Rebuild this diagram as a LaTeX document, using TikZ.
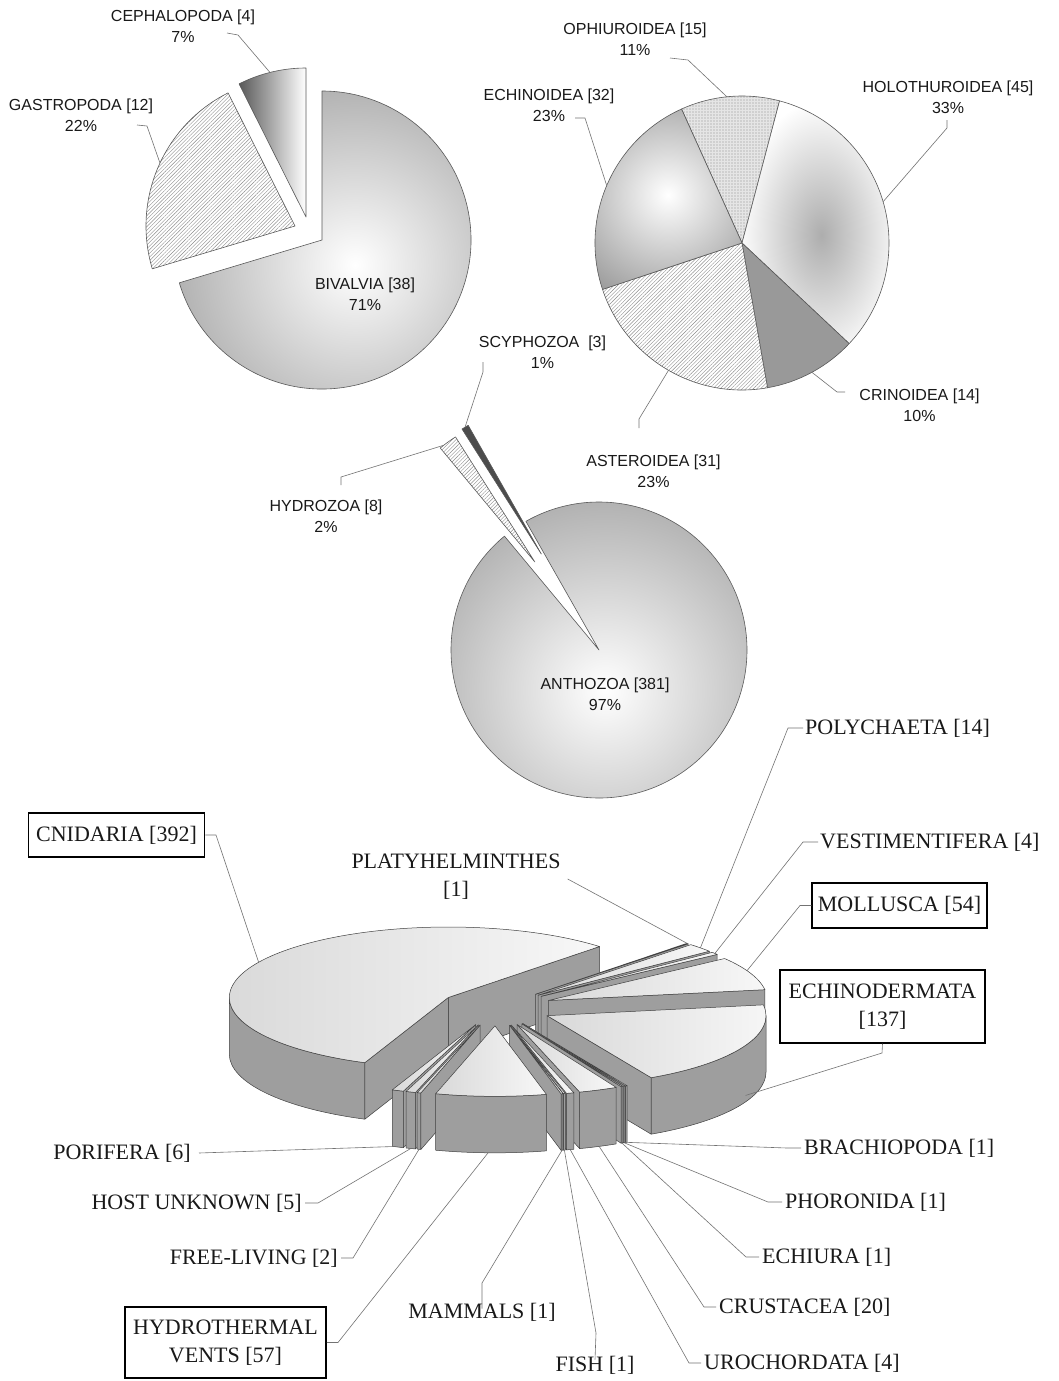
\documentclass[tikz,border=0pt]{standalone}
\usepackage{fontspec}
\setmainfont{Liberation Serif}
\newfontfamily\sansf{Liberation Sans}
\usetikzlibrary{calc,patterns.meta}
\def\Cx{496}\def\Cy{1007.5}\def\Ra{219}\def\Rb{70.5}\def\Hh{56.5}\def\Ex{0.26}
\tikzset{
  edge/.style={draw=black!75, line width=0.5pt, line join=round},
  wallst/.style={edge, fill=black!38},
  topst/.style={edge, left color=black!15, right color=black!3},
  lead/.style={draw=black!55, line width=0.6pt},
  lsans/.style={font=\sansf\fontsize{16}{21}\selectfont, align=center, inner sep=0pt, text=black!90},
  lser/.style={font=\fontsize{22}{28}\selectfont, inner sep=0pt, align=center, text=black!90},
  lbox/.style={lser, draw=black, line width=1.5pt, fill=white},
  pedge/.style={draw=black!65, line width=0.6pt, line join=round},
  hatchst/.style={pedge, preaction={fill=white}, pattern={Lines[angle=45,distance=2.6pt,line width=0.4pt]}, pattern color=black!45},
}
\newcommand\owall[3]{%
  \path[wallst] ($(#1)+({\Ra*cos(#2)},{-\Rb*sin(#2)})$)
    arc[start angle={-(#2)}, end angle={-(#3)}, x radius=\Ra, y radius=\Rb]
    -- ++(0,\Hh)
    arc[start angle={-(#3)}, end angle={-(#2)}, x radius=\Ra, y radius=\Rb] -- cycle;}
\newcommand\rwall[2]{%
  \path[wallst] (#1) -- ++({\Ra*cos(#2)},{-\Rb*sin(#2)}) -- ++(0,\Hh) -- ($(#1)+(0,\Hh)$) -- cycle;}
\newcommand\pslice[3]{%
  \pgfmathsetmacro\pM{(#1+#2)/2}%
  \pgfmathsetmacro\pX{\Cx+\Ex*\Ra*cos(\pM)}%
  \pgfmathsetmacro\pY{\Cy-\Ex*\Rb*sin(\pM)}%
  \coordinate (#3) at (\pX,\pY);%
  \pgfmathsetmacro\wLo{max(#1,-180)}%
  \pgfmathsetmacro\wHi{min(#2,0)}%
  \pgfmathtruncatemacro\wOk{\wLo<\wHi}%
  \ifnum\wOk=1 \owall{#3}{\wLo}{\wHi}\fi
  \pgfmathsetmacro\wLo{max(#1,180)}%
  \pgfmathsetmacro\wHi{min(#2,360)}%
  \pgfmathtruncatemacro\wOk{\wLo<\wHi}%
  \ifnum\wOk=1 \owall{#3}{\wLo}{\wHi}\fi
  \pgfmathtruncatemacro\wOk{cos(#1)>0}%
  \ifnum\wOk=1 \rwall{#3}{#1}\fi
  \pgfmathtruncatemacro\wOk{cos(#2)<0}%
  \ifnum\wOk=1 \rwall{#3}{#2}\fi
  \path[topst] (#3) -- ++({\Ra*cos(#1)},{-\Rb*sin(#1)})
    arc[start angle={-(#1)}, end angle={-(#2)}, x radius=\Ra, y radius=\Rb] -- cycle;}
\newcommand\rimpt[4]{\coordinate (#1) at ($(#2)+({\Ra*cos(#3)},{-\Rb*sin(#3)+#4})$);}
\begin{document}
\begin{tikzpicture}[x=1pt,y=-1pt]
\useasboundingbox (0,0) rectangle (1059,1381);
\fill[white] (0,0) rectangle (1059,1381);

% ---------------- MOLLUSCA pie (top left)
\coordinate (bivC) at (322,240);
\coordinate (gasC) at (295,226);
\coordinate (cepC) at (306,217);
\path[pedge, path picture={\shade[inner color=white, outer color=black!44] (355,265) circle (260);}]
  (bivC) -- ++({149*cos(-163.3)},{-149*sin(-163.3)}) arc[start angle=163.3, end angle=-90, radius=149] -- cycle;
\path[hatchst]
  (gasC) -- ++({149*cos(116.7)},{-149*sin(116.7)}) arc[start angle=-116.7, end angle=-196.7, radius=149] -- cycle;
\path[pedge, left color=black!65, right color=white]
  (cepC) -- ++({149*cos(90)},{-149*sin(90)}) arc[start angle=-90, end angle=-116.7, radius=149] -- cycle;

\node[lsans] (lBiv) at (365,294) {BIVALVIA [38]\\71\%};
\node[lsans] (lGas) at (81,115.5) {GASTROPODA [12]\\22\%};
\node[lsans] (lCep) at (183,26) {CEPHALOPODA [4]\\7\%};
\coordinate (aCep) at (227,33); \coordinate (bCep) at (238,35);
\coordinate (eCep) at ($(cepC)+({149*cos(104)},{-149*sin(104)})$);
\draw[lead] (aCep) -- (bCep) -- (eCep);
\coordinate (aGas) at (137,125); \coordinate (bGas) at (147,126);
\coordinate (eGas) at ($(gasC)+({149*cos(155)},{-149*sin(155)})$);
\draw[lead] (aGas) -- (bGas) -- (eGas);

% ---------------- ECHINODERMATA pie (top right)
\coordinate (echC) at (742,243);
\path[pedge, preaction={fill=black!10}, pattern={Dots[distance=3pt,radius=0.6pt]}, pattern color=black!45]
  (echC) -- ++({147*cos(75.2)},{-147*sin(75.2)}) arc[start angle=-75.2, end angle=-114.3, radius=147] -- cycle;
\path[pedge, fill=white, path picture={\shade[inner color=black!32, outer color=white] (818,235) ellipse (80 and 135);}]
  (echC) -- ++({147*cos(-43.2)},{-147*sin(-43.2)}) arc[start angle=43.2, end angle=-75.2, radius=147] -- cycle;
\path[pedge, fill=black!40]
  (echC) -- ++({147*cos(-80)},{-147*sin(-80)}) arc[start angle=80, end angle=43.2, radius=147] -- cycle;
\path[hatchst]
  (echC) -- ++({147*cos(-161.6)},{-147*sin(-161.6)}) arc[start angle=161.6, end angle=80, radius=147] -- cycle;
\path[pedge, path picture={\shade[inner color=white, outer color=black!46] (668,195) circle (135);}]
  (echC) -- ++({147*cos(114.3)},{-147*sin(114.3)}) arc[start angle=-114.3, end angle=-198.4, radius=147] -- cycle;

\node[lsans] (lOph) at (635,39.5) {OPHIUROIDEA [15]\\11\%};
\node[lsans] (lEcn) at (549,105.5) {ECHINOIDEA [32]\\23\%};
\node[lsans] (lHol) at (948,97) {HOLOTHUROIDEA [45]\\33\%};
\node[lsans] (lCri) at (919.5,405) {CRINOIDEA [14]\\10\%};
\node[lsans] (lAst) at (653.5,471) {ASTEROIDEA [31]\\23\%};
\coordinate (aOph) at (670,58); \coordinate (bOph) at (688,60);
\coordinate (eOph) at ($(echC)+({147*cos(95.9)},{-147*sin(95.9)})$);
\draw[lead] (aOph) -- (bOph) -- (eOph);
\coordinate (aEcn) at (575,118); \coordinate (bEcn) at (585,118);
\coordinate (eEcn) at ($(echC)+({147*cos(157)},{-147*sin(157)})$);
\draw[lead] (aEcn) -- (bEcn) -- (eEcn);
\coordinate (aHol) at (947,120); \coordinate (bHol) at (947,128);
\coordinate (eHol) at ($(echC)+({147*cos(16.3)},{-147*sin(16.3)})$);
\draw[lead] (aHol) -- (bHol) -- (eHol);
\coordinate (aCri) at (845,392); \coordinate (bCri) at (837,392);
\coordinate (eCri) at ($(echC)+({147*cos(-61.6)},{-147*sin(-61.6)})$);
\draw[lead] (aCri) -- (bCri) -- (eCri);
\coordinate (aAst) at (639,428); \coordinate (bAst) at (639,419);
\coordinate (eAst) at ($(echC)+({147*cos(-120)},{-147*sin(-120)})$);
\draw[lead] (aAst) -- (bAst) -- (eAst);

% ---------------- CNIDARIA pie (middle)
\coordinate (antC) at (599,650);
\coordinate (hydC) at (534.8,561.9);
\coordinate (scyC) at (541.3,554);
\path[pedge, path picture={\shade[inner color=white, outer color=black!44] (605,690) circle (275);}]
  (antC) -- ++({148*cos(129.7)},{-148*sin(129.7)}) arc[start angle=-129.7, end angle=-479.6, radius=148] -- cycle;
\path[hatchst]
  (hydC) -- ++({148*cos(122.4)},{-148*sin(122.4)}) arc[start angle=-122.4, end angle=-129.7, radius=148] -- cycle;
\path[pedge, fill=black!70]
  (scyC) -- ++({148*cos(119.6)},{-148*sin(119.6)}) arc[start angle=-119.6, end angle=-122.4, radius=148] -- cycle;

\node[lsans] (lAnt) at (605,694) {ANTHOZOA [381]\\97\%};
\node[lsans] (lScy) at (542.5,352.5) {SCYPHOZOA \ [3]\\1\%};
\node[lsans] (lHyd) at (326,516) {HYDROZOA [8]\\2\%};
\coordinate (aScy) at (483,362); \coordinate (bScy) at (483,372);
\coordinate (eScy) at ($(scyC)+({148*cos(121)},{-148*sin(121)})$);
\draw[lead] (aScy) -- (bScy) -- (eScy);
\coordinate (aHyd) at (341,485); \coordinate (bHyd) at (341,477);
\coordinate (eHyd) at ($(hydC)+({148*cos(128)},{-148*sin(128)})$);
\draw[lead] (aHyd) -- (bHyd) -- (eHyd);

% ---------------- 3D pie (bottom)
\pslice{46.3}{247.6}{sCni}
\pslice{45.8}{46.3}{sPla}
\pslice{38.6}{45.8}{sPol}
\pslice{36.5}{38.6}{sVes}
\pslice{8.8}{36.5}{sMol}
\pslice{-61.6}{8.8}{sEch}
\pslice{-62.1}{-61.6}{sBra}
\pslice{-62.6}{-62.1}{sPho}
\pslice{-63.1}{-62.6}{sEcu}
\pslice{-73.4}{-63.1}{sCru}
\pslice{-75.4}{-73.4}{sUro}
\pslice{-75.9}{-75.4}{sFis}
\pslice{-76.4}{-75.9}{sMam}
\pslice{-112.4}{-109.3}{sPor}
\pslice{-109.3}{-106.7}{sHos}
\pslice{-106.7}{-105.7}{sFre}
\pslice{-105.7}{-76.4}{sHyv}

\rimpt{eCni}{sCni}{150}{0}
\rimpt{ePla}{sPla}{46.05}{0}
\rimpt{ePol}{sPol}{42.2}{0}
\rimpt{eVes}{sVes}{37.5}{0}
\rimpt{eMol}{sMol}{25}{0}
\rimpt{eEch}{sEch}{-25}{50}
\rimpt{eBra}{sBra}{-61.85}{\Hh}
\rimpt{ePho}{sPho}{-62.35}{\Hh}
\rimpt{eEcu}{sEcu}{-62.85}{\Hh}
\rimpt{eCru}{sCru}{-68}{\Hh}
\rimpt{eUro}{sUro}{-74.4}{\Hh}
\rimpt{eFis}{sFis}{-75.65}{\Hh}
\rimpt{eMam}{sMam}{-76.15}{\Hh}
\rimpt{eHyv}{sHyv}{-91.8}{\Hh}
\rimpt{eFre}{sFre}{-106.2}{\Hh}
\rimpt{eHos}{sHos}{-108}{\Hh}
\rimpt{ePor}{sPor}{-112}{\Hh}

\node[lbox, minimum width=176pt, minimum height=44pt] (lCni) at (116.5,835) {CNIDARIA [392]};
\node[lser] (lPla) at (456,877) {PLATYHELMINTHES\\{[1]}};
\node[lser, anchor=west] (lPol) at (805,728) {POLYCHAETA [14]};
\node[lser, anchor=west] (lVes) at (820,842) {VESTIMENTIFERA [4]};
\node[lbox, minimum width=175pt, minimum height=45pt] (lMol) at (899.5,905.5) {MOLLUSCA [54]};
\node[lbox, minimum width=205pt, minimum height=73pt] (lEch) at (882.5,1006.5) {ECHINODERMATA\\{[137]}};
\node[lser, anchor=west] (lBra) at (804,1148) {BRACHIOPODA [1]};
\node[lser, anchor=west] (lPho) at (785,1202) {PHORONIDA [1]};
\node[lser, anchor=west] (lEcu) at (762,1257) {ECHIURA [1]};
\node[lser, anchor=west] (lCru) at (719,1307) {CRUSTACEA [20]};
\node[lser, anchor=west] (lUro) at (704,1363) {UROCHORDATA [4]};
\node[lser] (lFis) at (595,1365) {FISH [1]};
\node[lser] (lMam) at (482,1312) {MAMMALS [1]};
\node[lbox, minimum width=201pt, minimum height=71pt] (lHyv) at (225.5,1342.5) {HYDROTHERMAL\\VENTS [57]};
\node[lser, anchor=east] (lFre) at (338,1258) {FREE-LIVING [2]};
\node[lser, anchor=east] (lHos) at (302,1203) {HOST UNKNOWN [5]};
\node[lser, anchor=east] (lPor) at (191,1153) {PORIFERA [6]};

\coordinate (bCni) at (216,835);
\draw[lead] (lCni.east) -- (bCni) -- (eCni);
\draw[lead] ([xshift=7pt,yshift=-2pt]lPla.east) -- (ePla);
\coordinate (bPol) at (788,728);
\draw[lead] ([xshift=-2pt]lPol.west) -- (bPol) -- (ePol);
\coordinate (bVes) at (803,842);
\draw[lead] ([xshift=-2pt]lVes.west) -- (bVes) -- (eVes);
\coordinate (bMol) at (800,905.5);
\draw[lead] (lMol.west) -- (bMol) -- (eMol);
\coordinate (bEch) at (882,1053);
\draw[lead] (lEch.south) -- (bEch) -- (eEch);
\coordinate (bBra) at (787,1148);
\draw[lead] ([xshift=-3pt]lBra.west) -- (bBra) -- (eBra);
\coordinate (bPho) at (768,1202);
\draw[lead] ([xshift=-3pt]lPho.west) -- (bPho) -- (ePho);
\coordinate (bEcu) at (746,1257);
\draw[lead] ([xshift=-3pt]lEcu.west) -- (bEcu) -- (eEcu);
\coordinate (bCru) at (704,1307);
\draw[lead] ([xshift=-3pt]lCru.west) -- (bCru) -- (eCru);
\coordinate (bUro) at (689,1363);
\draw[lead] ([xshift=-3pt]lUro.west) -- (bUro) -- (eUro);
\coordinate (bFis) at (596,1333);
\draw[lead] ([yshift=-4pt]lFis.north) -- (bFis) -- (eFis);
\coordinate (bMam) at (482,1283);
\draw[lead] ([yshift=-6pt]lMam.north) -- (bMam) -- (eMam);
\coordinate (bHyv) at (338,1342.5);
\draw[lead] (lHyv.east) -- (bHyv) -- (eHyv);
\coordinate (bFre) at (353,1258);
\draw[lead] ([xshift=3pt]lFre.east) -- (bFre) -- (eFre);
\coordinate (bHos) at (318,1203);
\draw[lead] ([xshift=3pt]lHos.east) -- (bHos) -- (eHos);
\draw[lead] ([xshift=8pt]lPor.east) -- (ePor);
\end{tikzpicture}
\end{document}
